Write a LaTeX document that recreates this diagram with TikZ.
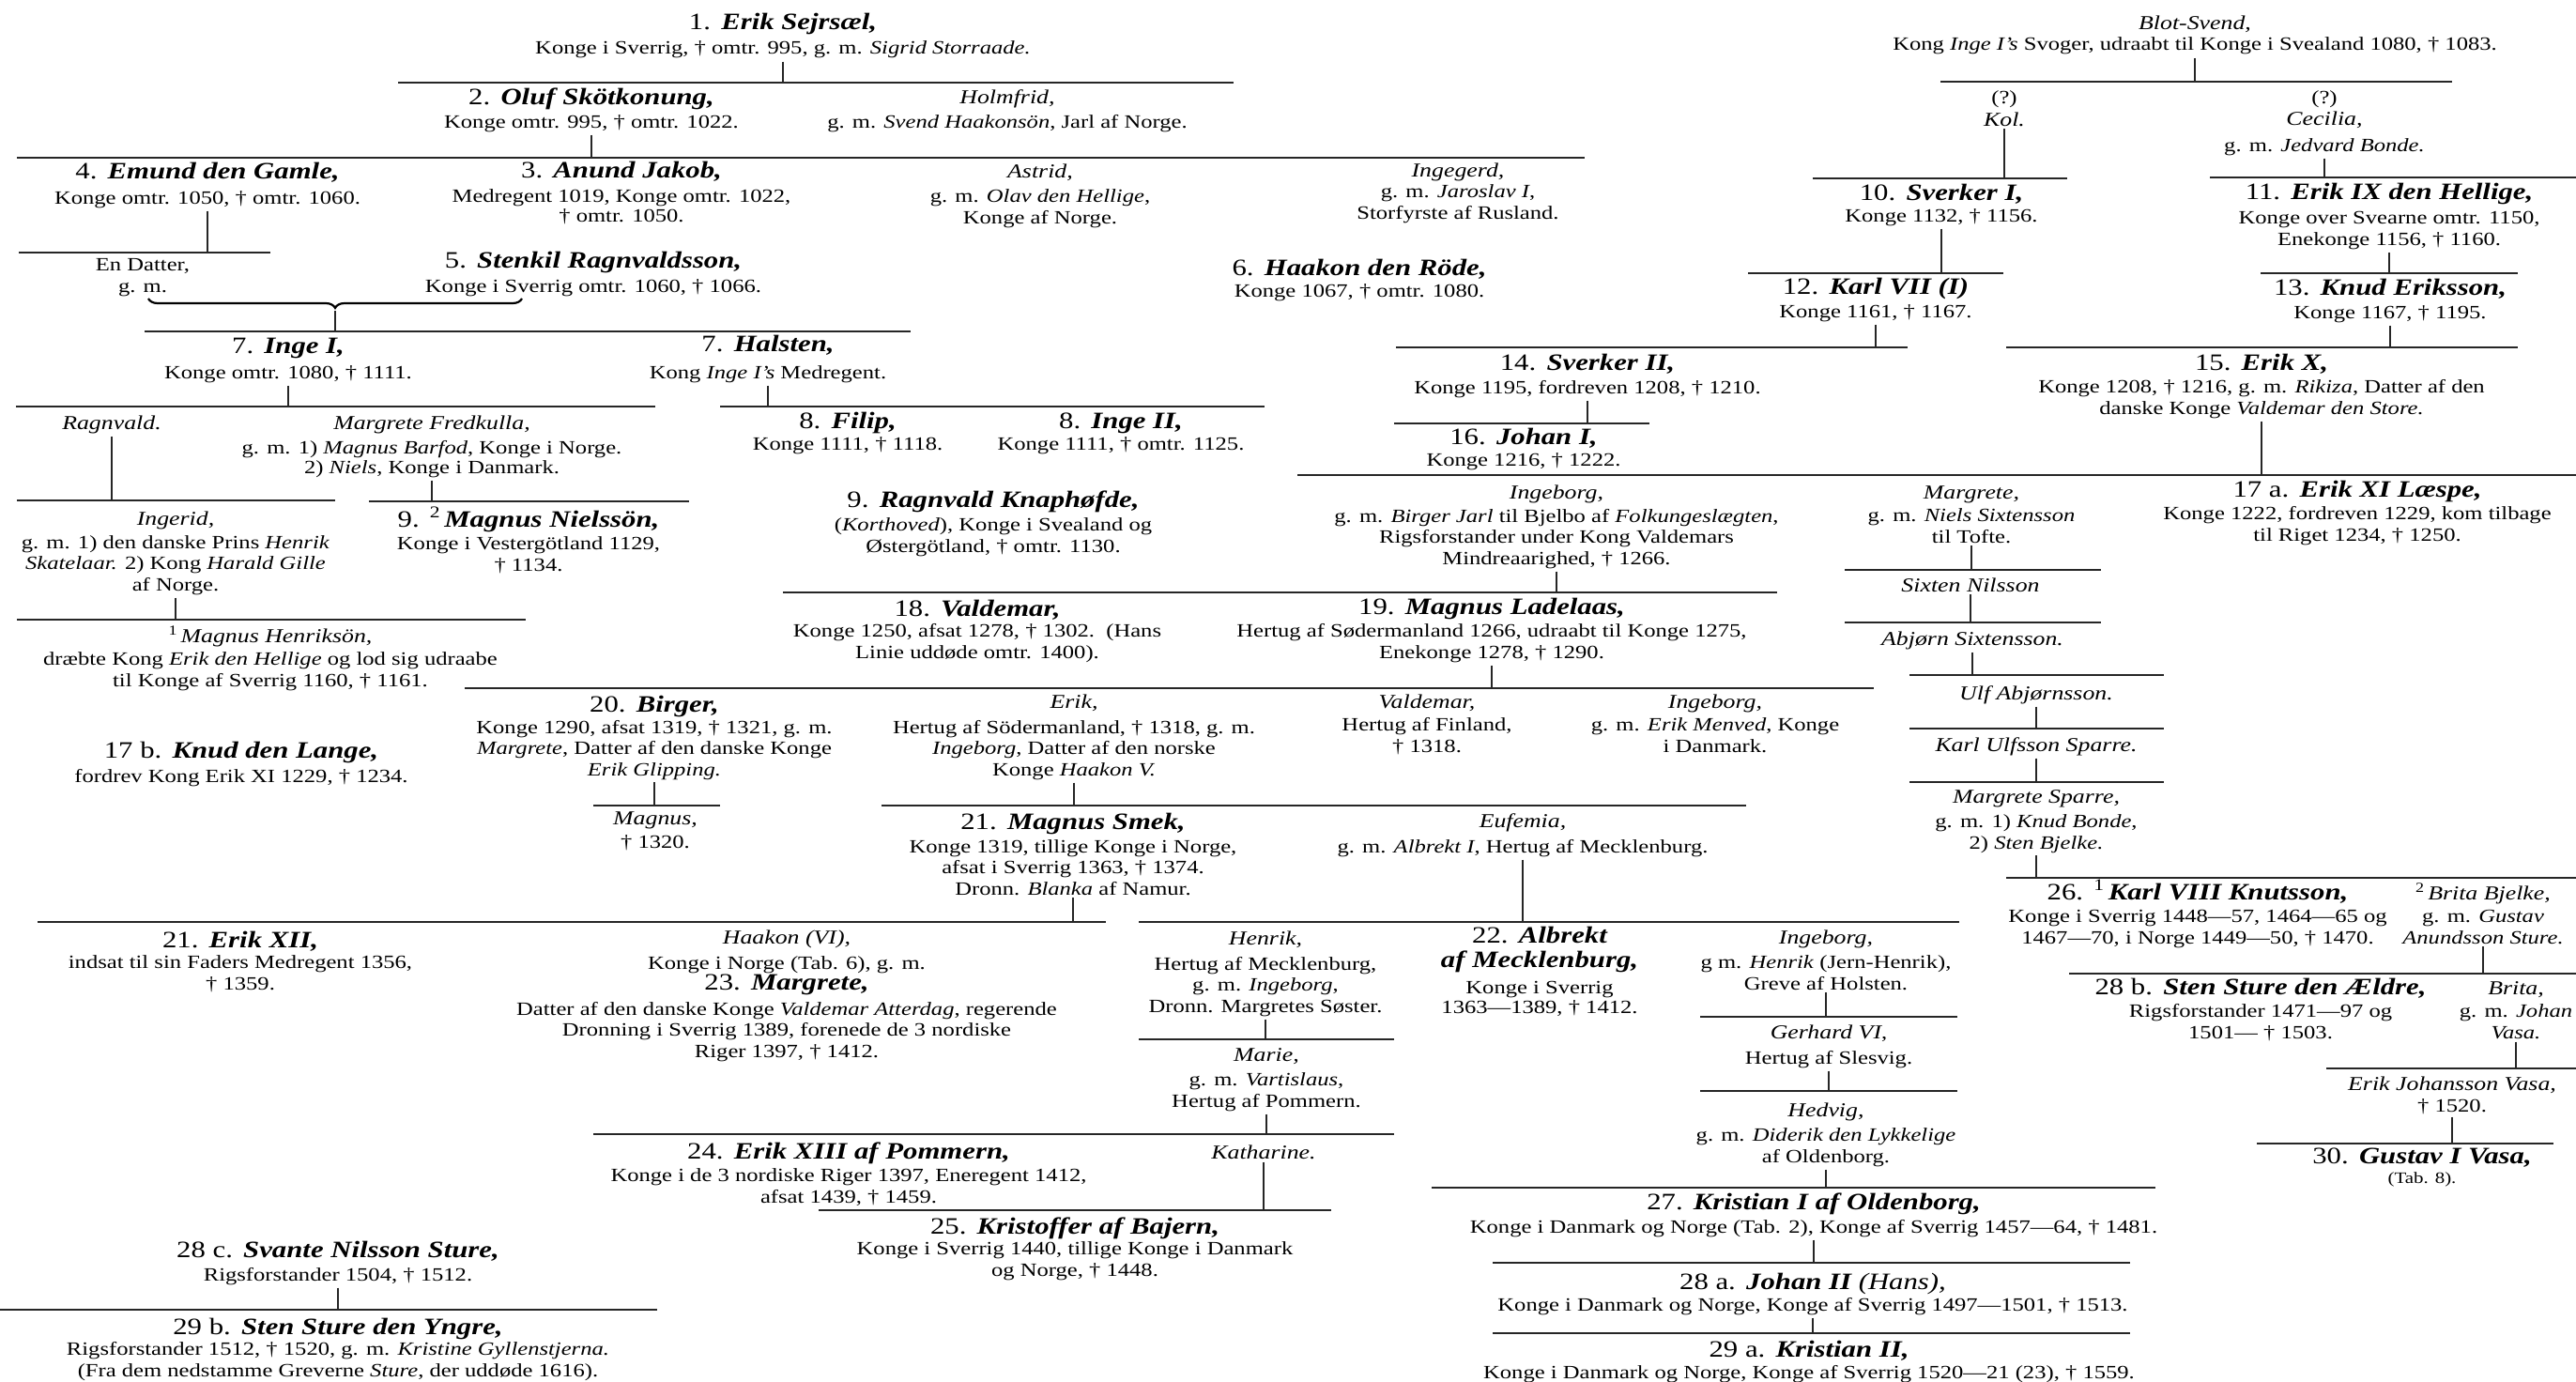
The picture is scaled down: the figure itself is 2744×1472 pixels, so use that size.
\documentclass[tikz,border=0pt]{standalone}
\usepackage{fontspec}
\setmainfont{Liberation Serif}[FakeStretch=1.23]
\usetikzlibrary{decorations.pathreplacing}
\newcommand{\NameSize}{\fontsize{25}{27}\selectfont}
\newcommand{\KB}[1]{{\NameSize\bfseries\itshape #1}}
\newcommand{\KN}[2]{{\NameSize #1\hspace{0.45em}\bfseries\itshape #2}}
\newcommand{\IN}[1]{{\fontsize{21}{24}\selectfont\itshape #1}}
\begin{document}
\begin{tikzpicture}[x=1pt,y=-1pt,
  P/.style={anchor=base,align=center,inner sep=0pt,font=\fontsize{20}{22.5}\selectfont},
  bar/.style={line width=1.4pt,black!85},
  tick/.style={line width=1.3pt,black!85}]
\fill[white] (0,0) rectangle (2744,1472);
\useasboundingbox (0,0) rectangle (2744,1472);

% (each node is placed by the baseline of its LAST line)
% ---------- left / top part ----------
\node[P] (n1) at (834,58) {\KN{1.}{Erik Sejrsæl,}\\[4pt] Konge i Sverrig, † omtr. 995, g. m. \textit{Sigrid Storraade.}};
\node[P] (oluf) at (630,136) {\KN{2.}{Oluf Skötkonung,}\\[2pt] Konge omtr. 995, † omtr. 1022.};
\node[P] (holmfrid) at (1073,136) {\IN{Holmfrid,}\\[3pt] g. m. \textit{Svend Haakonsön}, Jarl af Norge.};
\node[P] (emund) at (221,217) {\KN{4.}{Emund den Gamle,}\\[4pt] Konge omtr. 1050, † omtr. 1060.};
\node[P] (anund) at (662,236) {\KN{3.}{Anund Jakob,}\\[4pt] Medregent 1019, Konge omtr. 1022,\\[-2pt] † omtr. 1050.};
\node[P] (astrid) at (1108,238) {\IN{Astrid,}\\[4pt] g. m. \textit{Olav den Hellige},\\ Konge af Norge.};
\node[P] (ingegerd) at (1553,233) {\IN{Ingegerd,}\\ g. m. \textit{Jaroslav I},\\ Storfyrste af Rusland.};
\node[P] (datter) at (152,311) {En Datter,\\ g. m.};
\node[P] (stenkil) at (632,311) {\KN{5.}{Stenkil Ragnvaldsson,}\\[3pt] Konge i Sverrig omtr. 1060, † 1066.};
\node[P] (haakonR) at (1448,316) {\KN{6.}{Haakon den Röde,}\\ Konge 1067, † omtr. 1080.};
\node[P] (inge1) at (307,403) {\KN{7.}{Inge I,}\\[4pt] Konge omtr. 1080, † 1111.};
\node[P] (halsten) at (818,403) {\KN{7.}{Halsten,}\\[6pt] Kong \textit{Inge I’s} Medregent.};
\node[P] (ragnvald) at (119,457) {\IN{Ragnvald.}};
\node[P] (margreteF) at (460,504) {\IN{Margrete Fredkulla,}\\[4pt] g. m. 1) \textit{Magnus Barfod}, Konge i Norge.\\[-2pt] 2) \textit{Niels}, Konge i Danmark.};
\node[P] (filip) at (903,479) {\KN{8.}{Filip,}\\ Konge 1111, † 1118.};
\node[P] (inge2) at (1194,479) {\KN{8.}{Inge II,}\\ Konge 1111, † omtr. 1125.};
\node[P] (ingerid) at (187,629) {\IN{Ingerid,}\\[2pt] g. m. 1) den danske Prins \textit{Henrik}\\ \textit{Skatelaar.} 2) Kong \textit{Harald Gille}\\ af Norge.};
\node[P] (magnusN) at (563,608) {\KN{9.}{\textsuperscript{\upshape\mdseries 2}\,Magnus Nielssön,}\\[2pt] Konge i Vestergötland 1129,\\ † 1134.};
\node[P] (ragnvaldK) at (1058,588) {\KN{9.}{Ragnvald Knaphøfde,}\\[3pt] (\textit{Korthoved}), Konge i Svealand og\\ Østergötland, † omtr. 1130.};
\node[P] (magnusH) at (288,731) {\IN{\textsuperscript{\upshape 1}\,Magnus Henriksön,}\\[2pt] dræbte Kong \textit{Erik den Hellige} og lod sig udraabe\\ til Konge af Sverrig 1160, † 1161.};
\node[P] (knudL) at (257,833) {\KN{17 b.}{Knud den Lange,}\\[3pt] fordrev Kong Erik XI 1229, † 1234.};

% ---------- right part ----------
\node[P] (blot) at (2338,54) {\IN{Blot-Svend,}\\ Kong \textit{Inge I’s} Svoger, udraabt til Konge i Svealand 1080, † 1083.};
\node[P] (kol) at (2135,134) {(?)\\[1pt] \IN{Kol.}};
\node[P] (cecilia) at (2476,161) {(?)\\[1pt] \IN{Cecilia,}\\[5pt] g. m. \textit{Jedvard Bonde.}};
\node[P] (sverker1) at (2068,236) {\KN{10.}{Sverker I,}\\ Konge 1132, † 1156.};
\node[P] (erik9) at (2545,261) {\KN{11.}{Erik IX den Hellige,}\\[4pt] Konge over Svearne omtr. 1150,\\ Enekonge 1156, † 1160.};
\node[P] (karl7) at (1998,338) {\KN{12.}{Karl VII (I)}\\[2pt] Konge 1161, † 1167.};
\node[P] (knudE) at (2546,339) {\KN{13.}{Knud Eriksson,}\\[2pt] Konge 1167, † 1195.};
\node[P] (sverker2) at (1691,419) {\KN{14.}{Sverker II,}\\[2pt] Konge 1195, fordreven 1208, † 1210.};
\node[P] (erik10) at (2409,441) {\KN{15.}{Erik X,}\\[2pt] Konge 1208, † 1216, g. m. \textit{Rikiza}, Datter af den\\ danske Konge \textit{Valdemar den Store.}};
\node[P] (johan1) at (1623,496) {\KN{16.}{Johan I,}\\ Konge 1216, † 1222.};
\node[P] (ingeborgB) at (1658,601) {\IN{Ingeborg,}\\[2pt] g. m. \textit{Birger Jarl} til Bjelbo af \textit{Folkungeslægten},\\ Rigsforstander under Kong Valdemars\\ Mindreaarighed, † 1266.};
\node[P] (margreteN) at (2100,578) {\IN{Margrete,}\\[2pt] g. m. \textit{Niels Sixtensson}\\ til Tofte.};
\node[P] (erik11) at (2511,576) {\KN{17 a.}{Erik XI Læspe,}\\[2pt] Konge 1222, fordreven 1229, kom tilbage\\ til Riget 1234, † 1250.};
\node[P] (sixten) at (2099,630) {\IN{Sixten Nilsson}};
\node[P] (abjorn) at (2101,687) {\IN{Abjørn Sixtensson.}};
\node[P] (ulf) at (2169,745) {\IN{Ulf Abjørnsson.}};
\node[P] (karlU) at (2169,800) {\IN{Karl Ulfsson Sparre.}};
\node[P] (margreteS) at (2169,904) {\IN{Margrete Sparre,}\\[4pt] g. m. 1) \textit{Knud Bonde},\\ 2) \textit{Sten Bjelke.}};

% ---------- middle ----------
\node[P] (valdemar18) at (1041,701) {\KN{18.}{Valdemar,}\\ Konge 1250, afsat 1278, † 1302.\ \ (Hans\\ Linie uddøde omtr. 1400).};
\node[P] (magnusL) at (1589,701) {\KN{19.}{Magnus Ladelaas,}\\[2pt] Hertug af Sødermanland 1266, udraabt til Konge 1275,\\ Enekonge 1278, † 1290.};
\node[P] (birger) at (697,826) {\KN{20.}{Birger,}\\ Konge 1290, afsat 1319, † 1321, g. m.\\ \textit{Margrete}, Datter af den danske Konge\\ \textit{Erik Glipping.}};
\node[P] (erikH) at (1144,826) {\IN{Erik,}\\[4pt] Hertug af Södermanland, † 1318, g. m.\\ \textit{Ingeborg}, Datter af den norske\\ Konge \textit{Haakon V.}};
\node[P] (valdemarF) at (1520,801) {\IN{Valdemar,}\\[2pt] Hertug af Finland,\\ † 1318.};
\node[P] (ingeborgM) at (1827,801) {\IN{Ingeborg,}\\[2pt] g. m. \textit{Erik Menved}, Konge\\ i Danmark.};
\node[P] (magnusB) at (698,903) {\IN{Magnus,}\\[2pt] † 1320.};
\node[P] (magnusS) at (1143,953) {\KN{21.}{Magnus Smek,}\\[2pt] Konge 1319, tillige Konge i Norge,\\ afsat i Sverrig 1363, † 1374.\\ Dronn. \textit{Blanka} af Namur.};
\node[P] (eufemia) at (1622,908) {\IN{Eufemia,}\\[4pt] g. m. \textit{Albrekt I}, Hertug af Mecklenburg.};
\node[P] (karl8) at (2341,1005) {\KN{26.}{\textsuperscript{\upshape\mdseries 1}\,Karl VIII Knutsson,}\\[2pt] Konge i Sverrig 1448—57, 1464—65 og\\ 1467—70, i Norge 1449—50, † 1470.};
\node[P] (britaB) at (2645,1005) {\IN{\textsuperscript{\upshape 2}\,Brita Bjelke,}\\[2pt] g. m. \textit{Gustav}\\ \textit{Anundsson Sture.}};
\node[P] (erik12) at (256,1054) {\KN{21.}{Erik XII,}\\ indsat til sin Faders Medregent 1356,\\ † 1359.};
\node[P] (haakon6) at (838,1126) {\IN{Haakon (VI),}\\[4pt] Konge i Norge (Tab. 6), g. m.\\ \KN{23.}{Margrete,}\\[4pt] Datter af den danske Konge \textit{Valdemar Atterdag}, regerende\\ Dronning i Sverrig 1389, forenede de 3 nordiske\\ Riger 1397, † 1412.};
\node[P] (henrik) at (1348,1078) {\IN{Henrik,}\\[4pt] Hertug af Mecklenburg,\\ g. m. \textit{Ingeborg},\\ Dronn. Margretes Søster.};
\node[P] (albrekt) at (1640,1079) {\KN{22.}{Albrekt}\\[3pt] \KB{af Mecklenburg,}\\[6pt] Konge i Sverrig\\[-2pt] 1363—1389, † 1412.};
\node[P] (ingeborgH) at (1945,1054) {\IN{Ingeborg,}\\[4pt] g m. \textit{Henrik} (Jern-Henrik),\\ Greve af Holsten.};
\node[P] (sten28b) at (2408,1106) {\KN{28 b.}{Sten Sture den Ældre,}\\[2pt] Rigsforstander 1471—97 og\\ 1501— † 1503.};
\node[P] (brita) at (2680,1106) {\IN{Brita,}\\[2pt] g. m. \textit{Johan}\\ \textit{Vasa.}};
\node[P] (gerhard) at (1948,1133) {\IN{Gerhard VI},\\[4pt] Hertug af Slesvig.};
\node[P] (marie) at (1349,1179) {\IN{Marie,}\\[4pt] g. m. \textit{Vartislaus},\\ Hertug af Pommern.};
\node[P] (erikJV) at (2612,1184) {\IN{Erik Johansson Vasa,}\\ † 1520.};
\node[P] (hedvig) at (1945,1238) {\IN{Hedvig,}\\[4pt] g. m. \textit{Diderik den Lykkelige}\\ af Oldenborg.};
\node[P] (erik13) at (904,1281) {\KN{24.}{Erik XIII af Pommern,}\\[2pt] Konge i de 3 nordiske Riger 1397, Eneregent 1412,\\ afsat 1439, † 1459.};
\node[P] (katharine) at (1346,1234) {\IN{Katharine.}};
\node[P] (gustav) at (2580,1260) {\KN{30.}{Gustav I Vasa,}\\[-2pt] {\fontsize{17}{20}\selectfont (Tab. 8).}};
\node[P] (kristian1) at (1932,1313) {\KN{27.}{Kristian I af Oldenborg,}\\[2pt] Konge i Danmark og Norge (Tab. 2), Konge af Sverrig 1457—64, † 1481.};
\node[P] (kristoffer) at (1145,1359) {\KN{25.}{Kristoffer af Bajern,}\\ Konge i Sverrig 1440, tillige Konge i Danmark\\ og Norge, † 1448.};
\node[P] (svante) at (360,1364) {\KN{28 c.}{Svante Nilsson Sture,}\\[2pt] Rigsforstander 1504, † 1512.};
\node[P] (johan2) at (1931,1396) {\KN{28 a.}{Johan II \mdseries(Hans),}\\ Konge i Danmark og Norge, Konge af Sverrig 1497—1501, † 1513.};
\node[P] (sten29b) at (360,1466) {\KN{29 b.}{Sten Sture den Yngre,}\\ Rigsforstander 1512, † 1520, g. m. \textit{Kristine Gyllenstjerna.}\\ (Fra dem nedstamme Greverne \textit{Sture}, der uddøde 1616).};
\node[P] (kristian2) at (1927,1468) {\KN{29 a.}{Kristian II,}\\ Konge i Danmark og Norge, Konge af Sverrig 1520—21 (23), † 1559.};

% ---------- sibling bars ----------
\foreach \n/\xa/\xb/\yy in {
  B1/424/1314/88, B2/18/1688/168, B3/20/288/269, B4/154/970/353,
  B5a/17/698/433, B5b/767/1347/433, B6a/18/357/533, B6b/393/734/534, B7/18/560/660,
  R1/2067/2612/87, R2a/1931/2202/190, R2b/2354/2744/189, R3a/1862/2134/291, R3b/2408/2682/291,
  R4a/1487/2032/370, R4b/2137/2682/370, R5/1485/1757/451, R6/1382/2744/506,
  R7/1965/2238/607, R8/1965/2238/663, R9/2034/2305/719, R10/2034/2305/776, R11/2034/2305/833,
  R12/2137/2744/935, R13/2204/2744/1037, R14/2478/2744/1138, R15/2404/2720/1218,
  M1/834/1893/631, M2/495/1996/733, M3a/632/767/858, M3b/939/1860/858,
  M4a/40/1178/982, M4b/1213/2087/982, M5/1213/1485/1107, M6/632/1485/1208, M7/872/1418/1289,
  M8/1811/2085/1083, M9/1811/2085/1162, M10/1525/2296/1265, M11/1590/2269/1345, M12/1590/2269/1420,
  S1/0/700/1395}
{\coordinate (\n-L) at (\xa,\yy); \coordinate (\n-R) at (\xb,\yy); \draw[bar] (\n-L) -- (\n-R);}

% ---------- parent ticks ----------
\foreach \p/\b in {n1/B1, oluf/B2, emund/B3, inge1/B5a, halsten/B5b, ragnvald/B6a, margreteF/B6b,
  ingerid/B7, blot/R1, kol/R2a, cecilia/R2b, sverker1/R3a, erik9/R3b, karl7/R4a, knudE/R4b,
  sverker2/R5, erik10/R6, margreteN/R7, sixten/R8, abjorn/R9, ulf/R10, karlU/R11, margreteS/R12,
  britaB/R13, brita/R14, erikJV/R15, ingeborgB/M1, magnusL/M2, birger/M3a, erikH/M3b,
  magnusS/M4a, eufemia/M4b, henrik/M5, marie/M6, katharine/M7, ingeborgH/M8, gerhard/M9,
  hedvig/M10, kristian1/M11, johan2/M12, svante/S1}
{\draw[tick] ([yshift=-3pt]\p.south) -- (\p.south |- \b-L);}

% ---------- brace joining En Datter and Stenkil ----------
\coordinate (braceL) at (158,318);
\coordinate (braceR) at (556,318);
\coordinate (braceTip) at (357,331);
\draw[decorate,decoration={brace,amplitude=10pt,mirror},line width=2.2pt] (braceL) -- (braceR);
\draw[tick] (braceTip) -- (braceTip |- B4-L);
\end{tikzpicture}
\end{document}
